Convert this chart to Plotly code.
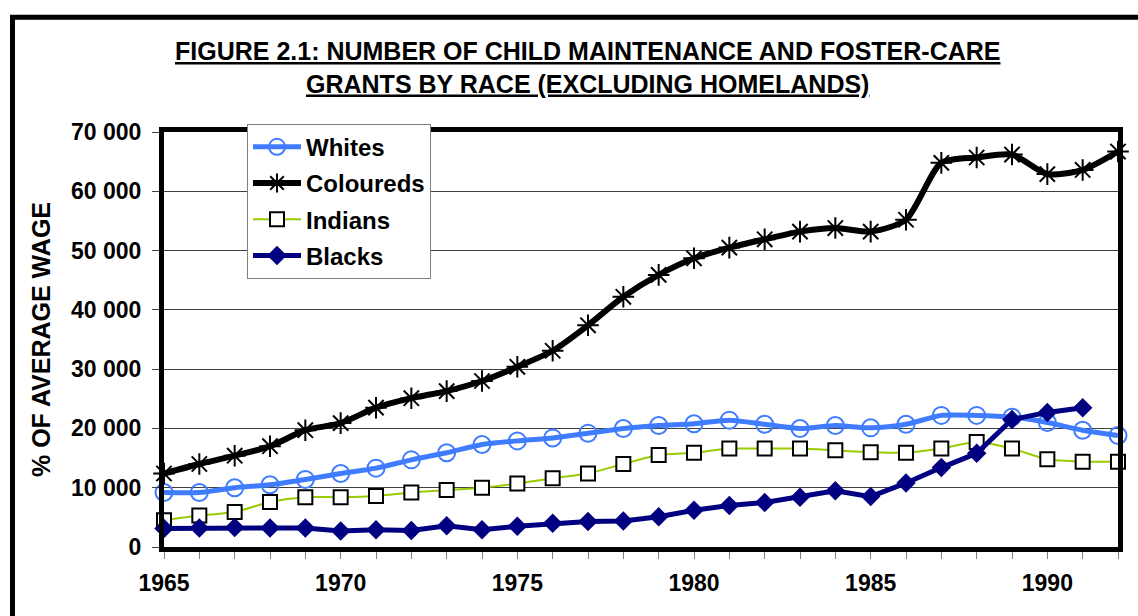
import plotly.graph_objects as go

years = list(range(1965, 1993))

whites = [9200, 9200, 10000, 10500, 11400, 12400, 13300, 14700, 15900, 17300,
          17900, 18400, 19200, 20000, 20500, 20800, 21400, 20700, 20000, 20500,
          20100, 20700, 22200, 22200, 21900, 21000, 19700, 18800]
coloureds = [12400, 14000, 15400, 17000, 19700, 20900, 23500, 25100, 26300, 28000,
             30400, 33100, 37400, 42200, 45900, 48700, 50500, 51900, 53200, 53800,
             53200, 55200, 64800, 65700, 66200, 62900, 63600, 66700]
indians = [4500, 5300, 5900, 7600, 8400, 8400, 8600, 9200, 9600, 10000,
           10700, 11600, 12400, 14000, 15500, 15900, 16600, 16600, 16600, 16300,
           16000, 15900, 16600, 17700, 16600, 14800, 14400, 14400]
blacks = [3100, 3200, 3300, 3200, 3200, 2700, 2900, 2800, 3600, 2900,
          3500, 4000, 4300, 4400, 5100, 6200, 7000, 7500, 8400, 9500,
          8500, 10800, 13400, 15800, 21500, 22700, 23500, None]

y_tickvals = [0, 10000, 20000, 30000, 40000, 50000, 60000, 70000]
y_ticktext = ["0", "10 000", "20 000", "30 000", "40 000", "50 000", "60 000", "70 000"]
x_ticktext = [str(y) if y % 5 == 0 else "" for y in years]

FONT = "Liberation Sans, Arial, sans-serif"

fig = go.Figure()
fig.add_trace(go.Scatter(
    x=years, y=whites, name="Whites", mode="lines+markers",
    line=dict(color="#3F7CFF", width=5, shape="spline", smoothing=0.7),
    marker=dict(symbol="circle-open", size=17, color="#3F7CFF", line=dict(width=2)),
    cliponaxis=False, legendgroup="a"))
fig.add_trace(go.Scatter(
    x=years, y=coloureds, name="Coloureds", mode="lines+markers",
    line=dict(color="black", width=6, shape="spline", smoothing=0.7),
    marker=dict(symbol="asterisk-open", size=18, color="black", line=dict(width=2, color="black")),
    cliponaxis=False, legendgroup="b"))
fig.add_trace(go.Scatter(
    x=years, y=indians, name="Indians", mode="lines+markers",
    line=dict(color="#99CC00", width=2, shape="spline", smoothing=0.7),
    marker=dict(symbol="square", size=14, color="white", line=dict(width=2, color="black")),
    cliponaxis=False, legendgroup="c"))
fig.add_trace(go.Scatter(
    x=years, y=blacks, name="Blacks", mode="lines+markers",
    line=dict(color="#000080", width=5),
    marker=dict(symbol="diamond", size=15, color="#000080"),
    cliponaxis=False, legendgroup="d"))

fig.update_layout(
    width=1138, height=616,
    margin=dict(l=164, r=20, t=132, b=69),
    paper_bgcolor="white", plot_bgcolor="white",
    font=dict(family=FONT, color="black"),
    showlegend=True,
    legend=dict(
        x=0.087, y=1.02, xanchor="left", yanchor="top",
        bgcolor="white", bordercolor="#808080", borderwidth=1,
        font=dict(family=FONT, size=24, color="black", weight="bold"),
        itemwidth=48, tracegroupgap=2, traceorder="grouped",
    ),
    xaxis=dict(
        range=[1965, 1992], tickmode="array", tickvals=years, ticktext=x_ticktext,
        showgrid=False, zeroline=False,
        showline=True, linecolor="black", linewidth=5, mirror=True,
        ticks="outside", ticklen=7, tickcolor="#808080", tickwidth=1,
        tickfont=dict(family=FONT, size=23, color="black", weight="bold"),
        ticklabelstandoff=4,
    ),
    yaxis=dict(
        range=[0, 70000], tickmode="array", tickvals=y_tickvals, ticktext=y_ticktext,
        showgrid=True, gridcolor="#404040", gridwidth=1, zeroline=False,
        showline=True, linecolor="black", linewidth=5, mirror=True,
        ticks="outside", ticklen=7, tickcolor="#404040", tickwidth=1,
        tickfont=dict(family=FONT, size=23, color="black", weight="bold"),
        ticklabelstandoff=6,
        title=dict(text="% OF AVERAGE WAGE", standoff=15,
                   font=dict(family=FONT, size=25, color="black", weight="bold")),
    ),
    annotations=[dict(
        text="<u>FIGURE 2.1: NUMBER OF CHILD MAINTENANCE AND FOSTER-CARE</u><br><u>GRANTS BY RACE (EXCLUDING HOMELANDS)</u>",
        xref="paper", yref="paper", x=0.4444, y=1.1564, xanchor="center", yanchor="middle",
        showarrow=False, align="center",
        font=dict(family=FONT, size=25, color="black", weight="bold"),
    )],
    shapes=[dict(
        type="rect", xref="paper", yref="paper",
        x0=-0.1588, x1=1.0283, y0=-0.2005, y1=1.2768,
        line=dict(color="black", width=5), fillcolor="rgba(0,0,0,0)", layer="above",
    )],
)

fig.write_html("out.html")
